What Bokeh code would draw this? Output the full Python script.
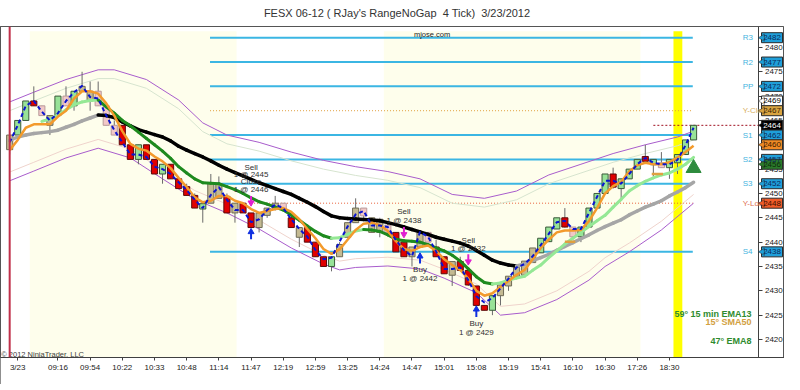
from bokeh.plotting import figure
from bokeh.layouts import column
from bokeh.models import (ColumnDataSource, FixedTicker, Range1d, Span, BoxAnnotation, Div)
from bokeh.embed import file_html
from bokeh.resources import INLINE
from bokeh.core.properties import value

FONT = "Liberation Sans"
TITLE = "FESX 06-12 ( RJay's RangeNoGap  4 Tick)  3/23/2012"

# ---------------- data ----------------
TICK_BARS = [1, 6, 10, 14, 18, 22, 26, 30, 34, 38, 42, 46, 50, 54, 58, 62, 66, 70, 74, 78, 82]
TICK_LABELS = ["3/23", "09:16", "09:54", "10:22", "10:33", "10:48", "11:14", "11:47", "12:19",
               "12:59", "13:25", "14:24", "14:47", "15:01", "15:08", "15:19", "15:41", "16:10",
               "16:30", "17:26", "18:30"]
PRICE_TICKS = [2420, 2425, 2430, 2435, 2440, 2445, 2450, 2455, 2460, 2465, 2470, 2475, 2480]

BODY_BOTTOM = [2459, 2462, 2465, 2468, 2466, 2464, 2466, 2468, 2468, 2471,
               2469, 2468, 2464, 2462, 2460, 2457, 2457, 2457, 2454, 2454,
               2453, 2451, 2449.6, 2447, 2446.8, 2448, 2449, 2446, 2446, 2446,
               2443, 2443, 2445.5, 2446.7, 2446.7, 2443, 2441, 2440, 2437, 2435,
               2435, 2437, 2441, 2444, 2445.4, 2442, 2442, 2442, 2438, 2437,
               2437, 2439, 2440, 2437, 2433.5, 2433.2, 2434.2, 2431.2, 2427, 2426,
               2426, 2429, 2431, 2433, 2433.2, 2435.8, 2437.8, 2440.1, 2442.7, 2443.1,
               2441.1, 2441.1, 2443.1, 2447, 2450, 2451.3, 2451, 2453, 2455, 2456.6,
               2455.9, 2455.3, 2455.3, 2456.3, 2458, 2461]
BODY_TOP = [2462, 2465, 2469, 2469, 2468, 2466, 2470, 2470, 2471, 2472,
            2471, 2471, 2468, 2464, 2464, 2460, 2460, 2460, 2457, 2456,
            2456, 2453, 2451.4, 2449.6, 2447.9, 2452, 2452, 2449.4, 2448, 2448,
            2446, 2446, 2447, 2448, 2448, 2445, 2443, 2443, 2440, 2437,
            2437, 2439.5, 2444, 2447, 2447, 2445, 2444.7, 2443.5, 2442, 2440,
            2439, 2442, 2442, 2439, 2437, 2436, 2436, 2434.2, 2431, 2427,
            2429, 2431.2, 2433, 2434.8, 2436.1, 2438.8, 2440.8, 2443.1, 2445, 2445,
            2443.1, 2443.1, 2447, 2450, 2454, 2454, 2453, 2455, 2457, 2457.6,
            2457, 2456.3, 2457, 2458, 2461, 2464]
LOW = [2458, 2462, 2465, 2468, 2466, 2462, 2466, 2468, 2467, 2471,
       2467, 2468, 2464, 2462, 2460, 2457, 2456, 2457, 2454, 2452,
       2453, 2451, 2449.6, 2447, 2444, 2448, 2449, 2446, 2444, 2446,
       2443, 2442, 2445, 2446.5, 2446.5, 2443, 2439, 2440, 2437, 2435,
       2434, 2437, 2441, 2444, 2445, 2442, 2441, 2442, 2438, 2437,
       2435, 2439, 2440, 2437, 2433.5, 2431, 2434, 2431, 2427, 2426,
       2425, 2427, 2430, 2433, 2433, 2435.8, 2437.8, 2440, 2442.7, 2443,
       2441, 2440, 2443, 2447, 2450, 2451, 2449, 2453, 2455, 2456.6,
       2453.5, 2455.3, 2453, 2454, 2458, 2461]
HIGH = [2462, 2465, 2469, 2472, 2468, 2466, 2470, 2472, 2471, 2475,
        2473, 2473, 2468, 2465, 2464, 2460, 2460, 2460, 2457, 2456,
        2456, 2453, 2452, 2450, 2448, 2454, 2453.5, 2450, 2448, 2448,
        2446, 2446, 2447, 2449.5, 2448, 2446, 2443, 2443, 2440, 2437,
        2437, 2440, 2444, 2449, 2447, 2445, 2445, 2444, 2442, 2440,
        2439, 2442, 2442, 2440.5, 2437, 2436, 2437, 2434.2, 2431, 2427,
        2429, 2431.2, 2433, 2435, 2436.1, 2438.8, 2440.8, 2443.1, 2445, 2447,
        2443.1, 2443.1, 2447, 2450, 2454, 2455.3, 2453, 2455, 2457, 2460,
        2457, 2458.5, 2457, 2458, 2461, 2464]
BAR_KIND = ("TGGRPTGPGT" "TPPPRRGRRG" "RRRRGTTRTR" "RTTTPRTRRR" "GTTTPTTPRR"
            "TTPRRTRRRR" "GTTTTTGGGR" "PGGGGRGGGR" "GPGGGG")

FAST_LINE = [2460.5, 2464.0, 2468.0, 2469.0, 2466.8, 2465.0, 2466.5, 2469.0, 2470.8, 2472.1,
             2469.8, 2469.5, 2466.0, 2463.0, 2460.5, 2458.0, 2458.0, 2457.5, 2455.5, 2455.0,
             2454.0, 2452.3, 2450.7, 2448.7, 2447.0, 2449.7, 2451.3, 2448.7, 2446.6, 2446.6,
             2444.1, 2444.7, 2446.6, 2447.7, 2447.0, 2444.7, 2442.7, 2441.1, 2438.4, 2436.5,
             2436.8, 2440.1, 2443.2, 2445.7, 2446.4, 2443.4, 2443.4, 2443.1, 2440.4, 2438.4,
             2437.1, 2442.1, 2441.1, 2438.1, 2434.5, 2434.5, 2434.8, 2432.2, 2428.9, 2427.6,
             2428.5, 2430.5, 2432.5, 2434.8, 2435.5, 2437.1, 2439.4, 2441.7, 2444.1, 2444.4,
             2442.7, 2442.7, 2446.0, 2449.3, 2452.6, 2452.6, 2452.0, 2454.0, 2456.0, 2457.3,
             2456.3, 2456.0, 2456.0, 2456.9, 2459.9, 2463.5]
EMA8 = [2458.9, 2461.0, 2463.5, 2464.2, 2464.2, 2464.2, 2465.8, 2467.0, 2469.5, 2471.0,
        2471.0, 2470.5, 2468.5, 2466.0, 2462.8, 2460.2, 2459.2, 2458.8, 2457.6, 2456.6,
        2455.2, 2453.2, 2451.3, 2449.2, 2448.2, 2448.5, 2449.5, 2449.5, 2448.5, 2448.0,
        2446.8, 2446.0, 2446.4, 2446.8, 2447.0, 2446.2, 2444.7, 2442.7, 2440.8, 2438.6,
        2437.6, 2438.5, 2440.5, 2442.5, 2443.8, 2444.0, 2443.5, 2442.3, 2440.2, 2438.6,
        2438.2, 2439.0, 2439.3, 2438.2, 2436.5, 2435.3, 2434.3, 2432.5, 2430.0, 2429.0,
        2429.5, 2430.8, 2432.0, 2433.3, 2434.3, 2436.5, 2438.8, 2440.5, 2442.0, 2442.4,
        2442.4, 2442.5, 2444.3, 2447.0, 2450.0, 2451.5, 2452.4, 2454.5, 2455.8, 2456.3,
        2456.0, 2456.0, 2456.4, 2457.4, 2458.5, 2459.8]
EMA13_START = 4
EMA13 = [2464.8, 2465.3, 2466.0, 2467.2, 2468.2, 2468.8, 2469.1, 2469.2, 2467.8, 2466.5,
         2465.0, 2463.9, 2462.6, 2461.3, 2460.0, 2458.7, 2457.2, 2455.5, 2454.2, 2453.0,
         2452.2, 2452.1, 2452.0, 2451.4, 2450.8, 2450.0, 2449.1, 2448.3, 2447.8, 2447.2,
         2446.6, 2445.6, 2444.5, 2443.3, 2442.2, 2441.3, 2440.8, 2440.9, 2441.6, 2442.3,
         2442.6, 2442.5, 2442.2, 2441.5, 2440.6, 2440.3, 2440.2, 2440.0, 2439.5, 2438.8,
         2438.2, 2437.3, 2436.1, 2434.5, 2432.9, 2431.7, 2431.4, 2431.6, 2432.2, 2432.6,
         2433.0, 2434.2, 2435.3, 2436.8, 2438.2, 2439.6, 2440.8, 2442.0, 2443.2, 2444.4,
         2445.5, 2447.2, 2448.8, 2450.5, 2451.6, 2452.5, 2453.2, 2453.8, 2454.2, 2455.0,
         2456.0, 2457.4]
SMA50 = [2460.9, 2461.6, 2462.0, 2462.3, 2462.5, 2462.7, 2463.0, 2463.6, 2464.2, 2464.9,
         2465.5, 2466.1, 2466.0, 2465.6, 2464.7, 2463.9, 2463.1, 2462.6, 2462.1, 2461.6,
         2460.8, 2459.7, 2458.9, 2458.2, 2457.5, 2456.7, 2455.8, 2455.0, 2454.3, 2453.6,
         2452.9, 2452.2, 2451.6, 2451.0, 2450.4, 2449.8, 2449.0, 2448.2, 2447.3, 2446.3,
         2445.4, 2445.0, 2444.85, 2444.75, 2444.65, 2444.55, 2444.4, 2444.0, 2443.6, 2443.1,
         2442.6, 2442.1, 2441.6, 2441.0, 2440.6, 2440.2, 2439.8, 2439.2, 2438.3, 2437.3,
         2436.3, 2435.7, 2435.3, 2435.1, 2435.5, 2436.2, 2436.8, 2437.5, 2438.3, 2439.1,
         2439.9, 2440.7, 2441.5, 2442.4, 2443.2, 2443.9, 2444.6, 2445.6, 2446.4, 2447.2,
         2447.8, 2448.5, 2449.5, 2450.3, 2451.2, 2452.3]
SMA50_15MIN_X0 = [69.0, 79.8]
SMA50_15MIN_X1 = [70.3, 81.2]
SMA50_15MIN_Y = [2440.1, 2454.0]

UPPER_X = [0, 3, 7, 11, 13, 17, 21, 24, 27, 31, 35, 39, 43, 47, 51, 55, 59, 63, 67, 71, 75, 79, 83, 85]
UPPER_BAND = [2468.8, 2470.8, 2473.4, 2475.4, 2475.4, 2473.4, 2469.2, 2464.5, 2462.0, 2460.5,
              2458.5, 2456.8, 2455.5, 2454.5, 2453.0, 2449.8, 2449.0, 2450.5, 2453.8, 2456.0,
              2458.2, 2460.0, 2461.6, 2462.8]
UPPER_INNER = [2467.0, 2469.0, 2471.6, 2473.6, 2473.6, 2471.6, 2467.4, 2462.7, 2460.2, 2458.7,
               2456.7, 2455.0, 2453.7, 2452.7, 2451.2, 2448.0, 2447.2, 2448.7, 2452.0, 2454.2,
               2456.4, 2458.2, 2459.8, 2461.0]
LOWER_X = [0, 3, 7, 11, 15, 19, 23, 27, 31, 35, 39, 41, 43, 47, 51, 54, 58, 61, 64, 68, 72, 74, 77, 81, 85]
LOWER_BAND = [2452.6, 2454.6, 2457.3, 2459.3, 2457.3, 2453.0, 2448.8, 2446.0, 2442.7, 2438.8,
              2435.5, 2434.3, 2434.8, 2435.1, 2434.5, 2432.6, 2429.6, 2425.0, 2425.5, 2428.2,
              2432.2, 2435.0, 2438.0, 2442.5, 2448.0]
LOWER_INNER = [2454.4, 2456.4, 2459.1, 2461.1, 2459.1, 2454.8, 2450.6, 2447.8, 2444.5, 2440.6,
               2437.3, 2436.1, 2436.6, 2436.9, 2436.3, 2434.4, 2431.4, 2426.8, 2427.3, 2430.0,
               2434.0, 2436.8, 2439.8, 2444.3, 2449.8]

PIVOT_NAMES = ["R3", "R2", "PP", "S1", "S2", "S3", "S4"]
PIVOT_LEVELS = [2482, 2477, 2472, 2462, 2457, 2452, 2438]
PIVOT_FROM, PIVOT_TO = 24.9, 84.9
Y_CLOSE, Y_LOW = 2467, 2448
Y_LOW_FROM = 30
LAST_PRICE, LAST_FROM = 2464, 80

SHADE_BARS = [(2.5, 28.2), (46.5, 78.4)]
HIGHLIGHT_BARS = (82.5, 83.6)
SHADE_TOP = 2483.3
SESSION_BAR = 0

BUY_BARS = [30, 51, 58]
BUY_HEAD = [2442.1, 2437.1, 2426.2]
BUY_TAIL = [2440.6, 2435.6, 2424.6]
SELL_BARS = [30, 49, 57]
SELL_HEAD = [2448.1, 2441.6, 2436.0]
SELL_TAIL = [2449.5, 2443.1, 2437.5]

TRADE_X = [30, 30, 30, 30, 49, 49, 51, 51, 57, 57, 58, 58]
TRADE_Y = [2455.35, 2453.8, 2452.4, 2450.8, 2446.2, 2444.5, 2434.4, 2432.6, 2440.3, 2438.7, 2423.3, 2421.5]
TRADE_TEXT = ["Sell", "1 @ 2445", "Close", "1 @ 2446", "Sell", "1 @ 2438", "Buy", "1 @ 2442",
              "Sell", "1 @ 2432", "Buy", "1 @ 2429"]

TAG_PRICES = [2482, 2477, 2472, 2469, 2467, 2464, 2462, 2460, 2457, 2456, 2452, 2448, 2438]
TAG_FILL = ["#1f9fd9", "#1f9fd9", "#1f9fd9", "#ffffff", "#d9a441", "#000000", "#1f9fd9",
            "#f08a24", "#1f9fd9", "#2a7a2a", "#1f9fd9", "#f05a28", "#1f9fd9"]
TAG_TEXT = ["#0b2a5c", "#0b2a5c", "#0b2a5c", "#000000", "#3a2400", "#ffffff", "#0b2a5c",
            "#3a1a00", "#0b2a5c", "#0d2a0d", "#0b2a5c", "#3a1000", "#0b2a5c"]

SIGNAL_BAR, SIGNAL_PRICE = 85, 2455.2

X_START, AXIS_X, X_END = -1.14, 93.1, 96.3
TAG_X = 94.75

# ---------------- figure ----------------
title = Div(text=TITLE, width=784, height=16, render_as_text=True,
            styles={"font-family": FONT, "font-size": "11px", "color": "#333333",
                    "text-align": "center", "white-space": "pre", "line-height": "16px"})

p = figure(width=784, height=358, x_range=Range1d(X_START, X_END),
           y_range=Range1d(2416.3, 2484.3), y_axis_location="left",
           output_backend="svg", toolbar_location=None,
           min_border_left=0, min_border_right=0, min_border_top=0, min_border_bottom=27)
p.styles = {"outline": "1px solid #6a6a6a", "outline-offset": "-1px"}
p.background_fill_color = "white"
p.border_fill_color = "white"
p.outline_line_color = "#555555"
p.xgrid.visible = False
p.ygrid.visible = False

xa = p.xaxis[0]
xa.axis_line_color = "#404040"
xa.major_tick_line_color = "#404040"
xa.major_tick_out = 3
xa.major_tick_in = 0
xa.minor_tick_out = 0
xa.minor_tick_in = 0
xa.major_label_text_font = FONT
xa.major_label_text_font_size = "8px"
xa.major_label_text_color = "#222222"
xa.major_label_standoff = 2
xa.ticker = FixedTicker(ticks=TICK_BARS)
xa.major_label_overrides = {b: l for b, l in zip(TICK_BARS, TICK_LABELS)}

# price scale drawn at the right edge of the bars area, labels to its right
ya = p.yaxis[0]
ya.fixed_location = AXIS_X
ya.ticker = FixedTicker(ticks=PRICE_TICKS)
ya.axis_line_color = "#404040"
ya.major_tick_line_color = "#404040"
ya.major_tick_out = 0
ya.major_tick_in = 4
ya.minor_tick_out = 0
ya.minor_tick_in = 0
ya.major_label_text_font = FONT
ya.major_label_text_font_size = "8px"
ya.major_label_text_color = "#222222"
ya.major_label_standoff = -24
ya.level = "underlay"

for a, b in SHADE_BARS:
    p.add_layout(BoxAnnotation(left=a, right=b, top=SHADE_TOP, fill_color="#fefeec", fill_alpha=1,
                               line_color=None, level="underlay"))
p.add_layout(BoxAnnotation(left=HIGHLIGHT_BARS[0], right=HIGHLIGHT_BARS[1], top=SHADE_TOP,
                           fill_color="#ffff00", fill_alpha=1, line_color=None, level="underlay"))

# pivots
n = len(PIVOT_LEVELS)
p.segment(x0=[PIVOT_FROM] * n, x1=[PIVOT_TO] * n, y0=PIVOT_LEVELS, y1=PIVOT_LEVELS,
          line_color="#3bb6e3", line_width=2)
p.segment(x0=[PIVOT_FROM], x1=[PIVOT_TO], y0=[Y_CLOSE], y1=[Y_CLOSE],
          line_color="#e0a040", line_width=1, line_dash="1 2")
p.segment(x0=[Y_LOW_FROM], x1=[PIVOT_TO], y0=[Y_LOW], y1=[Y_LOW],
          line_color="#e8603a", line_width=1, line_dash="1 2")
p.segment(x0=[LAST_FROM], x1=[AXIS_X], y0=[LAST_PRICE], y1=[LAST_PRICE],
          line_color="#a01020", line_width=1, line_dash="2 2")
p.text(x=[91.1] * n, y=PIVOT_LEVELS, text=PIVOT_NAMES, text_font=value(FONT),
       text_font_size="8px", text_color="#45b4e0", text_baseline="middle", text_align="left")
p.text(x=[91.1, 91.1], y=[Y_CLOSE, Y_LOW], text=["Y-Close", "Y-Low"], text_font=value(FONT),
       text_font_size="8px", text_color=["#d8b060", "#e07050"], text_baseline="middle",
       text_align="left")

# envelope
p.line(UPPER_X, UPPER_INNER, line_color="#d6e4cf", line_width=1)
p.line(LOWER_X, LOWER_INNER, line_color="#efd3cc", line_width=1)
p.line(UPPER_X, UPPER_BAND, line_color="#a85ccc", line_width=1)
p.line(LOWER_X, LOWER_BAND, line_color="#a85ccc", line_width=1)

# candles
KIND_FILL = {"G": "#98e298", "R": "#e00000", "T": "#c4ba92", "P": "#f2c8c8"}
KIND_LINE = {"G": "#3b5a3b", "R": "#5a0a0a", "T": "#6e6a55", "P": "#b89a9a"}
xs = list(range(len(BODY_TOP)))
csrc = ColumnDataSource(dict(x=xs, top=BODY_TOP, bottom=BODY_BOTTOM, high=HIGH, low=LOW,
                             fill=[KIND_FILL[k] for k in BAR_KIND],
                             line=[KIND_LINE[k] for k in BAR_KIND]))
p.segment(x0="x", x1="x", y0="low", y1="high", source=csrc, line_color="#6a6a6a", line_width=1)
p.vbar(x="x", width=0.76, top="top", bottom="bottom", source=csrc, fill_color="fill",
       line_color="line", line_width=1)

# slope-coloured averages
def slope_segments(x0, vals, up, down):
    sx0, sx1, sy0, sy1, col = [], [], [], [], []
    for i in range(len(vals) - 1):
        sx0.append(x0 + i); sx1.append(x0 + i + 1)
        sy0.append(vals[i]); sy1.append(vals[i + 1])
        col.append(down if vals[i + 1] < vals[i] else up)
    return ColumnDataSource(dict(x0=sx0, x1=sx1, y0=sy0, y1=sy1, c=col))

p.segment(x0="x0", x1="x1", y0="y0", y1="y1", line_color="c", line_width=3.5, line_cap="round",
          source=slope_segments(0, SMA50, "#a6a6a6", "#000000"))
p.segment(x0="x0", x1="x1", y0="y0", y1="y1", line_color="c", line_width=3, line_cap="round",
          source=slope_segments(EMA13_START, EMA13, "#95e895", "#1e8a1e"))
p.segment(x0=SMA50_15MIN_X0, x1=SMA50_15MIN_X1, y0=SMA50_15MIN_Y, y1=SMA50_15MIN_Y,
          line_color="#e0a040", line_width=2.5)
p.line(xs, EMA8, line_color="#f39a2c", line_width=2.5)
p.line(xs, FAST_LINE, line_color="#0a14d0", line_width=2, line_dash="4 3")

# trade arrows
p.segment(x0=BUY_BARS, x1=BUY_BARS, y0=BUY_TAIL, y1=BUY_HEAD, line_color="#1030e0", line_width=2)
p.scatter(BUY_BARS, BUY_HEAD, marker="triangle", size=6, fill_color="#1030e0", line_color="#1030e0")
p.segment(x0=SELL_BARS, x1=SELL_BARS, y0=SELL_TAIL, y1=SELL_HEAD, line_color="#e020d0", line_width=2)
p.scatter(SELL_BARS, SELL_HEAD, marker="inverted_triangle", size=6, fill_color="#e020d0",
          line_color="#e020d0")
p.text(x=TRADE_X, y=TRADE_Y, text=TRADE_TEXT, text_font=value(FONT), text_font_size="8px",
       text_color="#303030", text_align="center", text_baseline="middle")

p.scatter([SIGNAL_BAR], [SIGNAL_PRICE], marker="triangle", size=15, fill_color="#2e8b3e",
          line_color="#2e8b3e")

p.add_layout(Span(location=SESSION_BAR, dimension="height", line_color="#c0304a", line_width=2))

# misc texts
p.text(x=[52.5], y=[2482.7], text=["mjose.com"], text_font=value(FONT), text_font_size="7.5px",
       text_color="#222222", text_align="center", text_baseline="middle")
p.text(x=[-1.05], y=[2417.0], text=["\u00a9 2012 NinjaTrader, LLC"], text_font=value(FONT),
       text_font_size="7.5px", text_color="#404040", text_align="left", text_baseline="middle")
p.text(x=[92.2, 92.2, 92.2], y=[2425.25, 2423.5, 2419.7],
       text=["59\u00b0 15 min EMA13", "15\u00b0 SMA50", "47\u00b0 EMA8"],
       text_font=value(FONT), text_font_size="9px", text_font_style="bold",
       text_color=["#2e8b2e", "#d2a040", "#2e8b2e"], text_align="right", text_baseline="middle")

# price tags on the scale
tsrc = ColumnDataSource(dict(x=[TAG_X] * len(TAG_PRICES), y=TAG_PRICES,
                             t=[str(v) for v in TAG_PRICES], f=TAG_FILL, c=TAG_TEXT))
p.rect(x="x", y="y", width=21, height=10, width_units="screen", height_units="screen",
       fill_color="f", line_color="#2a2a2a", line_width=1, source=tsrc)
p.scatter(x=[AXIS_X + 0.45] * len(TAG_PRICES), y=TAG_PRICES, marker="triangle", angle=1.5708,
          size=7, fill_color=TAG_FILL, line_color="#2a2a2a", line_width=0.5)
p.text(x="x", y="y", text="t", text_color="c", text_font=value(FONT), text_font_size="8px",
       text_align="center", text_baseline="middle", source=tsrc)

layout = column(title, p, spacing=0)
open("out.html", "w").write(file_html(layout, INLINE))
